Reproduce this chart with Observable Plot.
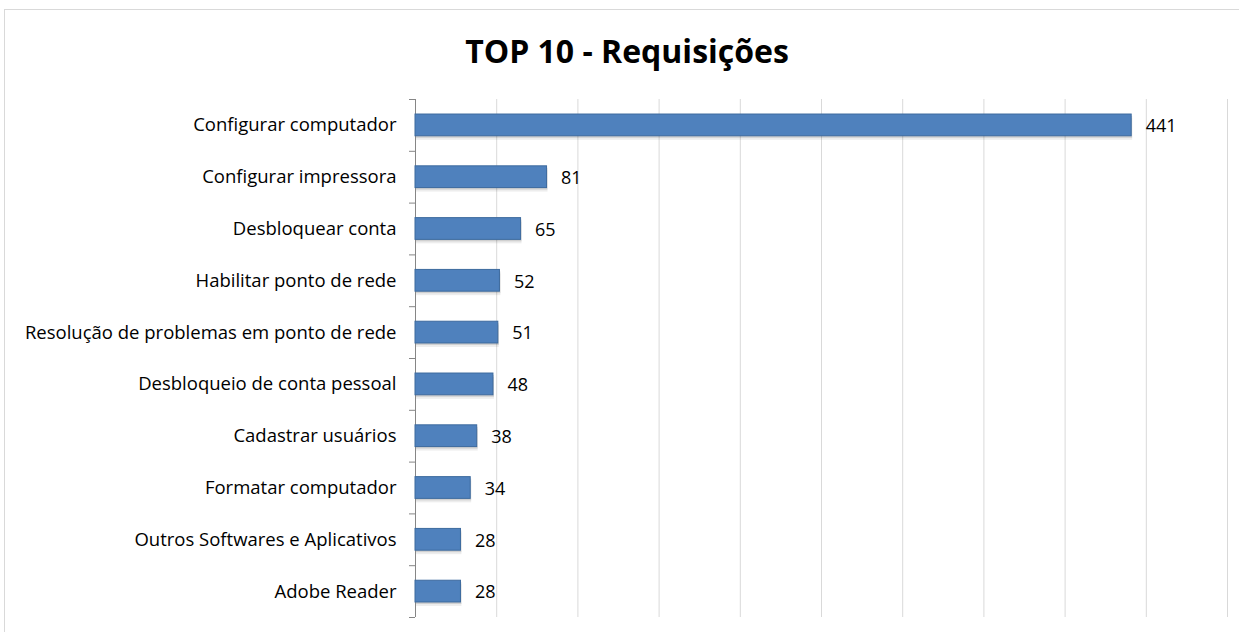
<!DOCTYPE html>
<html>
<head>
<meta charset="utf-8">
<script src="https://cdn.jsdelivr.net/npm/d3@7"></script>
<script src="https://cdn.jsdelivr.net/npm/@observablehq/plot@0.6"></script>
<style>
  html, body { margin: 0; padding: 0; background: #fff; }
  #wrap { position: relative; width: 1239px; height: 632px; overflow: hidden; font-family: "Open Sans", sans-serif; }
  #frame { position: absolute; left: 4px; top: 9px; width: 1300px; height: 700px; border: 1px solid #d9d9d9; box-sizing: border-box; }
  #title { position: absolute; left: 0; top: 29px; width: 1254px; text-align: center; font-size: 32px; line-height: 44px; font-weight: bold; color: #000; }
  #chart { position: absolute; left: 0; top: 0; }
</style>
</head>
<body>
<div id="wrap">
  <div id="frame"></div>
  <div id="title">TOP 10 - Requisições</div>
  <div id="chart"></div>
</div>
<script>
const categories = [
  "Configurar computador",
  "Configurar impressora",
  "Desbloquear conta",
  "Habilitar ponto de rede",
  "Resolução de problemas em ponto de rede",
  "Desbloqueio de conta pessoal",
  "Cadastrar usuários",
  "Formatar computador",
  "Outros Softwares e Aplicativos",
  "Adobe Reader"
];
const values = [441, 81, 65, 52, 51, 48, 38, 34, 28, 28];
const xTicks = [0, 50, 100, 150, 200, 250, 300, 350, 400, 450, 500];

const data = categories.map((c, i) => ({category: c, value: values[i]}));

const H = 632, mTop = 99, mBottom = 15;
const step = (H - mTop - mBottom) / categories.length;

const chart = Plot.plot({
  width: 1239,
  height: H,
  marginLeft: 415,
  marginRight: 12,
  marginTop: mTop,
  marginBottom: mBottom,
  style: {fontFamily: "Open Sans, sans-serif", fontSize: "18px", color: "#000", background: "transparent"},
  x: {domain: [0, 500], axis: null},
  y: {domain: categories, paddingInner: 0.58, paddingOuter: 0.29, round: false, axis: null},
  marks: [
    Plot.gridX(xTicks, {stroke: "#d9d9d9", strokeOpacity: 1, strokeWidth: 1}),
    Plot.ruleX([0], {stroke: "#868686", strokeWidth: 1}),
    Plot.axisY({tickSize: 0, tickPadding: 19, fontSize: 18.5, fill: "#000", textAnchor: "end", label: null}),
    Plot.axisY({text: null, tickSize: 6, stroke: "#868686", dy: -step / 2, label: null}),
    Plot.axisY([categories[categories.length - 1]], {text: null, tickSize: 6, stroke: "#868686", dy: step / 2, label: null}),
    Plot.barX(data, {x: "value", y: "category", fill: "#000", fillOpacity: 0.07, dx: 1, dy: 4}),
    Plot.barX(data, {x: "value", y: "category", fill: "#000", fillOpacity: 0.12, dx: 1, dy: 2}),
    Plot.barX(data, {x: "value", y: "category", fill: "#4f81bd", stroke: "#3d6a9e", strokeWidth: 1}),
    Plot.text(data, {x: "value", y: "category", text: d => String(d.value), dx: 14, dy: 1, textAnchor: "start", fontSize: 18, fill: "#000"})
  ]
});
document.getElementById("chart").appendChild(chart);
</script>
</body>
</html>
